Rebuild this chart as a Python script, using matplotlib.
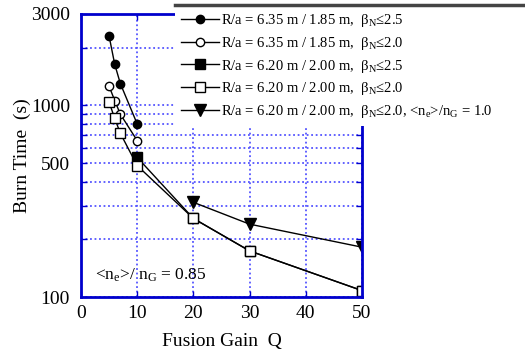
import matplotlib
matplotlib.use('Agg')
import matplotlib.pyplot as plt
from matplotlib.lines import Line2D

plt.rcParams['font.family'] = 'Liberation Serif'
plt.rcParams['mathtext.fontset'] = 'custom'
plt.rcParams['mathtext.rm'] = 'Liberation Serif'
plt.rcParams['mathtext.it'] = 'Liberation Serif:italic'

# data
q_a = [5, 6, 7, 10]
t_a = [2300, 1640, 1300, 800]        # 6.35/1.85, betaN<=2.5
q_b = [5, 6, 7, 10]
t_b = [1260, 1060, 900, 655]         # 6.35/1.85, betaN<=2.0
q_c = [10, 20, 30, 50]
t_c = [535, 257, 174, 108]           # 6.20/2.00, betaN<=2.5
q_d = [5, 6, 7, 10, 20, 30, 50]
t_d = [1040, 856, 715, 485, 257, 174, 108]   # 6.20/2.00, betaN<=2.0
q_e = [20, 30, 50]
t_e = [312, 240, 182]                # 6.20/2.00, betaN<=2.0, ne/nG=1.0

labels = [r'R/a = 6.35 m / 1.85 m,  β$_{\rm N}$≤2.5',
          r'R/a = 6.35 m / 1.85 m,  β$_{\rm N}$≤2.0',
          r'R/a = 6.20 m / 2.00 m,  β$_{\rm N}$≤2.5',
          r'R/a = 6.20 m / 2.00 m,  β$_{\rm N}$≤2.0',
          r'R/a = 6.20 m / 2.00 m,  β$_{\rm N}$≤2.0, <n$_{\rm e}$>/n$_{\rm G}$ = 1.0']

blue = '#0000cc'

fig = plt.figure(figsize=(5.25, 3.52), dpi=100)
ax = fig.add_axes([81/525, 1-297/352, (362-81)/525, (297-14)/352])

ax.plot(q_a, t_a, '-o', color='k', mfc='k', ms=6, lw=1, label=labels[0])
ax.plot(q_b, t_b, '-o', color='k', mfc='white', ms=6, lw=1, label=labels[1])
ax.plot(q_c, t_c, '-s', color='k', mfc='k', ms=7, lw=1, label=labels[2])
ax.plot(q_d, t_d, '-s', color='k', mfc='white', ms=7, lw=1, label=labels[3])
ax.plot(q_e, t_e, '-v', color='k', mfc='k', ms=8, lw=1, label=labels[4])

ax.set_yscale('log')
ax.set_xlim(0, 50)
ax.set_ylim(100, 3000)
ax.set_xticks([0, 10, 20, 30, 40, 50])
ax.set_yticks([100, 500, 1000, 3000])
ax.set_yticklabels(['100', '500', '1000', '3000'])
ax.set_yticks([200, 300, 400, 600, 700, 800, 900, 2000], minor=True)
ax.yaxis.set_minor_formatter(plt.NullFormatter())
ax.tick_params(which='both', direction='in', color=blue, labelcolor='black',
               labelsize=14, top=True, right=True, length=4, width=1)
ax.tick_params(axis='y', pad=8)
ax.tick_params(axis='x', pad=6)
ax.grid(True, which='both', axis='y', color='#5555ff', ls=(0, (1, 1.5)), lw=1.3)
ax.grid(True, which='major', axis='x', color='#5555ff', ls=(0, (1, 1.5)), lw=1.3)
for s in ax.spines.values():
    s.set_color(blue)
    s.set_linewidth(2)

ax.set_xlabel('Fusion Gain  Q', fontsize=14, labelpad=8)
ax.set_ylabel('Burn Time  (s)', fontsize=14, labelpad=0)
ax.text(2.5, 124, r'<n$_{\rm e}$>/ n$_{\rm G}$ = 0.85', fontsize=12.5)

leg = ax.legend(loc='upper left', bbox_to_anchor=(175/525, 1-6/352),
                bbox_transform=fig.transFigure, fontsize=10.5, frameon=True,
                fancybox=False, framealpha=1, edgecolor='none',
                handlelength=2.6, labelspacing=0.4, borderpad=0.4,
                handletextpad=0.15, borderaxespad=0)
leg.set_zorder(5)
fig.add_artist(Line2D([175/525, 1], [1-5/352, 1-5/352], color='#444444', lw=2.5))

fig.savefig('out.png', dpi=100)
